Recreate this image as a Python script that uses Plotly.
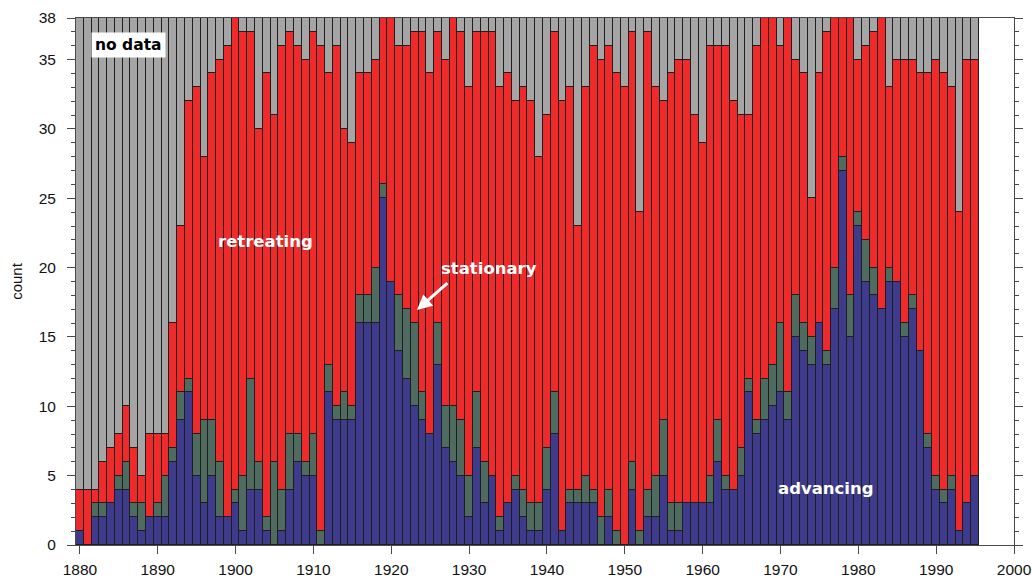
import plotly.graph_objects as go

# glacier counts per year
years = list(range(1880, 1996))

advancing = [1, 0, 2, 2, 3, 4, 4, 2, 1, 2,
             2, 2, 6, 9, 11, 5, 3, 5, 2, 2,
             3, 1, 4, 4, 1, 0, 1, 4, 6, 5,
             5, 0, 11, 9, 9, 9, 16, 16, 16, 25,
             19, 14, 12, 10, 9, 8, 13, 7, 6, 5,
             2, 7, 3, 5, 1, 3, 4, 2, 1, 1,
             4, 8, 1, 3, 3, 3, 3, 0, 2, 0,
             0, 4, 0, 2, 2, 5, 1, 1, 3, 3,
             3, 3, 6, 4, 4, 5, 11, 8, 9, 10,
             11, 9, 15, 14, 13, 16, 13, 17, 27, 15,
             23, 19, 18, 17, 19, 19, 15, 17, 14, 7,
             4, 3, 4, 1, 3, 5]

stationary = [0, 0, 1, 1, 0, 1, 2, 1, 2, 0,
              1, 3, 1, 2, 1, 3, 6, 4, 4, 0,
              1, 4, 8, 2, 1, 6, 3, 4, 2, 1,
              3, 1, 2, 1, 2, 1, 2, 2, 4, 1,
              0, 4, 5, 6, 2, 0, 3, 3, 4, 4,
              3, 4, 3, 0, 1, 0, 1, 2, 2, 2,
              3, 3, 0, 1, 1, 2, 1, 2, 2, 1,
              0, 2, 1, 2, 3, 4, 2, 2, 0, 0,
              0, 2, 3, 1, 0, 2, 1, 1, 3, 3,
              5, 2, 3, 2, 2, 0, 1, 3, 1, 3,
              1, 3, 2, 0, 1, 0, 1, 1, 0, 1,
              1, 1, 1, 0, 0, 0]

retreating = [3, 4, 1, 3, 4, 3, 4, 4, 2, 6,
              5, 3, 9, 12, 20, 25, 19, 25, 29, 34,
              34, 32, 25, 24, 32, 25, 32, 29, 28, 29,
              29, 35, 21, 26, 19, 19, 16, 16, 15, 12,
              19, 18, 19, 21, 26, 26, 21, 25, 28, 28,
              28, 26, 31, 32, 31, 31, 27, 29, 29, 25,
              24, 26, 31, 29, 19, 28, 32, 33, 32, 33,
              33, 31, 23, 33, 28, 23, 31, 32, 32, 28,
              26, 31, 27, 31, 28, 24, 19, 27, 26, 25,
              20, 27, 17, 18, 10, 18, 23, 18, 10, 20,
              11, 14, 17, 21, 13, 16, 19, 17, 20, 26,
              30, 30, 28, 23, 32, 30]

no_data = [34, 34, 34, 32, 31, 30, 28, 31, 33, 30,
           30, 30, 22, 15, 6, 5, 10, 4, 3, 2,
           0, 1, 1, 8, 4, 7, 2, 1, 2, 3,
           1, 2, 4, 2, 8, 9, 4, 4, 3, 0,
           0, 2, 2, 1, 1, 4, 1, 3, 0, 1,
           5, 1, 1, 1, 5, 4, 6, 5, 6, 10,
           7, 1, 6, 5, 15, 5, 2, 3, 2, 4,
           5, 1, 14, 1, 5, 6, 4, 3, 3, 7,
           9, 2, 2, 2, 6, 7, 7, 2, 0, 0,
           2, 0, 3, 4, 13, 4, 1, 0, 0, 0,
           3, 2, 1, 0, 5, 3, 3, 3, 4, 4,
           3, 4, 5, 14, 3, 3]

series = [('advancing', advancing, '#3f3b8c'),
          ('stationary', stationary, '#4f6a5e'),
          ('retreating', retreating, '#ee2a2a'),
          ('no data', no_data, '#a5a5a5')]

fig = go.Figure()
for name, vals, col in series:
    fig.add_trace(go.Bar(x=years, y=vals, name=name, width=1,
                         marker=dict(color=col, line=dict(color='#1e1e1e', width=1))))

axis_col = '#4a4a4a'
tick_font = dict(family='Liberation Sans, Arial', size=15.5, color='#111')
label_font = dict(family='DejaVu Sans', size=16.5, color='white')

fig.update_layout(
    barmode='stack', bargap=0, showlegend=False,
    width=1032, height=578,
    margin=dict(l=76, r=18, t=18, b=33, autoexpand=False),
    plot_bgcolor='white', paper_bgcolor='white',
    xaxis=dict(range=[1879.5, 2000], tickvals=list(range(1880, 2001, 10)),
               ticks='outside', ticklen=8, tickcolor=axis_col, automargin=False,
               showline=True, linecolor=axis_col, linewidth=1, mirror=True,
               showgrid=False, zeroline=False, tickfont=tick_font,
               ticklabelstandoff=2, ticklabeloverflow='allow'),
    yaxis=dict(range=[0, 38], tickvals=[0, 5, 10, 15, 20, 25, 30, 35, 38],
               ticks='outside', ticklen=8, tickcolor=axis_col, automargin=False,
               minor=dict(tickmode='linear', tick0=0, dtick=1, ticks='outside',
                          ticklen=4, tickcolor=axis_col, showgrid=False),
               showline=True, linecolor=axis_col, linewidth=1, mirror='ticks',
               showgrid=False, zeroline=False, tickfont=tick_font,
               ticklabelstandoff=8, ticklabeloverflow='allow',
               title=dict(text='count', standoff=12,
                          font=dict(family='Liberation Sans, Arial', size=15, color='#111'))),
)

# text labels on the bars
fig.add_annotation(x=1886.3, y=36.05, xref='x', yref='y', text='<b>no data</b>',
                   showarrow=False, bgcolor='white', borderpad=3,
                   font=dict(family='DejaVu Sans', size=15.5, color='black'))
fig.add_annotation(x=1903.9, y=21.85, xref='x', yref='y', text='<b>retreating</b>',
                   showarrow=False, font=label_font)
fig.add_annotation(x=1932.5, y=19.97, xref='x', yref='y', text='<b>stationary</b>',
                   showarrow=False, font=label_font)
fig.add_annotation(x=1975.8, y=4.11, xref='x', yref='y', text='<b>advancing</b>',
                   showarrow=False, font=label_font)
# arrow pointing at the stationary band
fig.add_annotation(x=1923.3, y=16.95, ax=1927.4, ay=18.97, xref='x', yref='y',
                   axref='x', ayref='y', text='', showarrow=True,
                   arrowhead=2, arrowsize=1, arrowwidth=3, arrowcolor='white')

# page has a default body margin; drop it so the figure sits at the top-left corner
fig.write_html("out.html", config={'displayModeBar': False},
               post_script="document.body.style.margin='0';")
